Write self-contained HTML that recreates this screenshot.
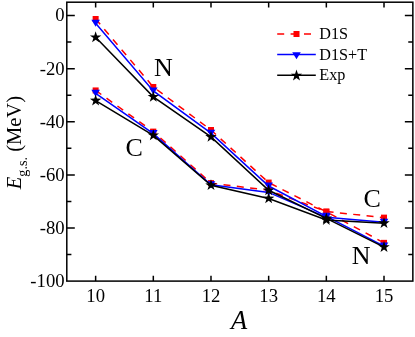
<!DOCTYPE html>
<html><head><meta charset="utf-8"><title>Chart</title>
<style>
html,body{margin:0;padding:0;background:#fff;}
body{width:415px;height:337px;overflow:hidden;font-family:"Liberation Serif",serif;}
.ls,.ls text,.ls tspan,svg text{font-family:"Liberation Serif",serif;}
svg{will-change:transform;}
</style>
</head><body>
<svg width="415" height="337" viewBox="0 0 415 337" style="display:block">
<rect width="415" height="337" fill="#fff"/>
<polyline points="95.64,19.00 153.31,86.98 210.99,130.00 268.66,182.58 326.34,211.79 384.01,242.86" fill="none" stroke="#ff0000" stroke-width="1.50" stroke-dasharray="7 6.4"/>
<rect x="92.64" y="16.00" width="6.00" height="6.00" fill="#ff0000"/>
<rect x="150.31" y="83.98" width="6.00" height="6.00" fill="#ff0000"/>
<rect x="207.99" y="127.00" width="6.00" height="6.00" fill="#ff0000"/>
<rect x="265.66" y="179.58" width="6.00" height="6.00" fill="#ff0000"/>
<rect x="323.34" y="208.79" width="6.00" height="6.00" fill="#ff0000"/>
<rect x="381.01" y="239.86" width="6.00" height="6.00" fill="#ff0000"/>
<polyline points="95.64,90.44 153.31,131.60 210.99,183.11 268.66,190.28 326.34,211.53 384.01,217.63" fill="none" stroke="#ff0000" stroke-width="1.50" stroke-dasharray="7 6.4"/>
<rect x="92.64" y="87.44" width="6.00" height="6.00" fill="#ff0000"/>
<rect x="150.31" y="128.60" width="6.00" height="6.00" fill="#ff0000"/>
<rect x="207.99" y="180.11" width="6.00" height="6.00" fill="#ff0000"/>
<rect x="265.66" y="187.28" width="6.00" height="6.00" fill="#ff0000"/>
<rect x="323.34" y="208.53" width="6.00" height="6.00" fill="#ff0000"/>
<rect x="381.01" y="214.63" width="6.00" height="6.00" fill="#ff0000"/>
<polyline points="95.64,23.25 153.31,90.97 210.99,133.19 268.66,186.03 326.34,216.31 384.01,246.05" fill="none" stroke="#0000ff" stroke-width="1.50"/>
<polygon points="91.34,19.75 99.94,19.75 95.64,26.75" fill="#0000ff"/>
<polygon points="149.01,87.47 157.61,87.47 153.31,94.47" fill="#0000ff"/>
<polygon points="206.69,129.69 215.29,129.69 210.99,136.69" fill="#0000ff"/>
<polygon points="264.36,182.53 272.96,182.53 268.66,189.53" fill="#0000ff"/>
<polygon points="322.04,212.81 330.64,212.81 326.34,219.81" fill="#0000ff"/>
<polygon points="379.71,242.55 388.31,242.55 384.01,249.55" fill="#0000ff"/>
<polyline points="95.64,93.36 153.31,133.59 210.99,184.71 268.66,192.41 326.34,217.37 384.01,222.15" fill="none" stroke="#0000ff" stroke-width="1.50"/>
<polygon points="91.34,89.86 99.94,89.86 95.64,96.86" fill="#0000ff"/>
<polygon points="149.01,130.09 157.61,130.09 153.31,137.09" fill="#0000ff"/>
<polygon points="206.69,181.21 215.29,181.21 210.99,188.21" fill="#0000ff"/>
<polygon points="264.36,188.91 272.96,188.91 268.66,195.91" fill="#0000ff"/>
<polygon points="322.04,213.87 330.64,213.87 326.34,220.87" fill="#0000ff"/>
<polygon points="379.71,218.65 388.31,218.65 384.01,225.65" fill="#0000ff"/>
<polyline points="95.64,37.33 153.31,96.81 210.99,136.91 268.66,190.28 326.34,218.43 384.01,247.11" fill="none" stroke="#000" stroke-width="1.50"/>
<polygon points="95.64,31.33 97.02,35.42 101.34,35.47 97.87,38.05 99.16,42.18 95.64,39.68 92.11,42.18 93.40,38.05 89.93,35.47 94.26,35.42" fill="#000"/>
<polygon points="153.31,90.81 154.69,94.91 159.02,94.95 155.55,97.53 156.84,101.66 153.31,99.16 149.79,101.66 151.08,97.53 147.61,94.95 151.93,94.91" fill="#000"/>
<polygon points="210.99,130.91 212.37,135.01 216.69,135.05 213.22,137.63 214.51,141.76 210.99,139.26 207.46,141.76 208.75,137.63 205.28,135.05 209.61,135.01" fill="#000"/>
<polygon points="268.66,184.28 270.04,188.38 274.37,188.43 270.90,191.01 272.19,195.14 268.66,192.63 265.14,195.14 266.43,191.01 262.96,188.43 267.28,188.38" fill="#000"/>
<polygon points="326.34,212.43 327.72,216.53 332.04,216.58 328.57,219.16 329.86,223.28 326.34,220.78 322.81,223.28 324.10,219.16 320.63,216.58 324.96,216.53" fill="#000"/>
<polygon points="384.01,241.11 385.39,245.21 389.72,245.26 386.25,247.84 387.54,251.96 384.01,249.46 380.49,251.96 381.78,247.84 378.31,245.26 382.63,245.21" fill="#000"/>
<polyline points="95.64,100.53 153.31,135.31 210.99,185.24 268.66,198.51 326.34,220.02 384.01,223.21" fill="none" stroke="#000" stroke-width="1.50"/>
<polygon points="95.64,94.53 97.02,98.62 101.34,98.67 97.87,101.25 99.16,105.38 95.64,102.88 92.11,105.38 93.40,101.25 89.93,98.67 94.26,98.62" fill="#000"/>
<polygon points="153.31,129.31 154.69,133.41 159.02,133.46 155.55,136.04 156.84,140.17 153.31,137.66 149.79,140.17 151.08,136.04 147.61,133.46 151.93,133.41" fill="#000"/>
<polygon points="210.99,179.24 212.37,183.34 216.69,183.38 213.22,185.96 214.51,190.09 210.99,187.59 207.46,190.09 208.75,185.96 205.28,183.38 209.61,183.34" fill="#000"/>
<polygon points="268.66,192.51 270.04,196.61 274.37,196.66 270.90,199.24 272.19,203.37 268.66,200.86 265.14,203.37 266.43,199.24 262.96,196.66 267.28,196.61" fill="#000"/>
<polygon points="326.34,214.02 327.72,218.12 332.04,218.17 328.57,220.75 329.86,224.88 326.34,222.37 322.81,224.88 324.10,220.75 320.63,218.17 324.96,218.12" fill="#000"/>
<polygon points="384.01,217.21 385.39,221.31 389.72,221.36 386.25,223.94 387.54,228.06 384.01,225.56 380.49,228.06 381.78,223.94 378.31,221.36 382.63,221.31" fill="#000"/>
<rect x="66.80" y="2.20" width="346.05" height="278.90" fill="none" stroke="#000" stroke-width="1.50"/>
<path d="M66.80 15.55 h8.00 M412.85 15.55 h-8.00 M66.80 42.11 h4.60 M412.85 42.11 h-4.60 M66.80 68.66 h8.00 M412.85 68.66 h-8.00 M66.80 95.21 h4.60 M412.85 95.21 h-4.60 M66.80 121.77 h8.00 M412.85 121.77 h-8.00 M66.80 148.33 h4.60 M412.85 148.33 h-4.60 M66.80 174.88 h8.00 M412.85 174.88 h-8.00 M66.80 201.44 h4.60 M412.85 201.44 h-4.60 M66.80 227.99 h8.00 M412.85 227.99 h-8.00 M66.80 254.55 h4.60 M412.85 254.55 h-4.60 M95.64 281.10 v-5.30 M95.64 2.20 v5.30 M153.31 281.10 v-5.30 M153.31 2.20 v5.30 M210.99 281.10 v-5.30 M210.99 2.20 v5.30 M268.66 281.10 v-5.30 M268.66 2.20 v5.30 M326.34 281.10 v-5.30 M326.34 2.20 v5.30 M384.01 281.10 v-5.30 M384.01 2.20 v5.30" stroke="#000" stroke-width="1.50" fill="none"/>
<g class="ls" font-size="18.7" fill="#000">
<text x="64.60" y="21.45" text-anchor="end">0</text>
<text x="64.60" y="74.56" text-anchor="end">-20</text>
<text x="64.60" y="127.67" text-anchor="end">-40</text>
<text x="64.60" y="180.78" text-anchor="end">-60</text>
<text x="64.60" y="233.89" text-anchor="end">-80</text>
<text x="64.60" y="287.00" text-anchor="end">-100</text>
<text x="95.64" y="302.00" text-anchor="middle">10</text>
<text x="153.31" y="302.00" text-anchor="middle">11</text>
<text x="210.99" y="302.00" text-anchor="middle">12</text>
<text x="268.66" y="302.00" text-anchor="middle">13</text>
<text x="326.34" y="302.00" text-anchor="middle">14</text>
<text x="384.01" y="302.00" text-anchor="middle">15</text>
</g>
<text transform="translate(20.8,189.2) rotate(-90)" class="ls" font-size="20.5" fill="#000"><tspan font-style="italic">E</tspan><tspan font-size="14.2" dy="5.8">g.s.</tspan><tspan dy="-5.8"> (MeV)</tspan></text>
<text x="239.2" y="329.3" text-anchor="middle" class="ls" font-size="26.5" font-style="italic" fill="#000">A</text>
<g class="ls" font-size="26" fill="#000" text-anchor="middle">
<text x="163.5" y="75.7">N</text>
<text x="134.1" y="156">C</text>
<text x="372.1" y="207">C</text>
<text x="361.2" y="263.7">N</text>
</g>
<line x1="277.20" y1="34" x2="315.80" y2="34" stroke="#ff0000" stroke-width="1.50" stroke-dasharray="7 6.4"/>
<rect x="293.50" y="31.00" width="6.00" height="6.00" fill="#ff0000"/>
<line x1="277.20" y1="54.5" x2="315.80" y2="54.5" stroke="#0000ff" stroke-width="1.50"/>
<polygon points="292.20,52.30 300.80,52.30 296.50,59.30" fill="#0000ff"/>
<line x1="277.20" y1="75.2" x2="315.80" y2="75.2" stroke="#000" stroke-width="1.50"/>
<polygon points="296.50,69.60 297.88,73.70 302.21,73.75 298.73,76.33 300.03,80.45 296.50,77.95 292.97,80.45 294.27,76.33 290.79,73.75 295.12,73.70" fill="#000"/>
<g class="ls" font-size="16.2" fill="#000">
<text x="319.3" y="39.4">D1S</text>
<text x="319.3" y="59.7">D1S+T</text>
<text x="319.3" y="80.2">Exp</text>
</g>
</svg>
</body></html>
